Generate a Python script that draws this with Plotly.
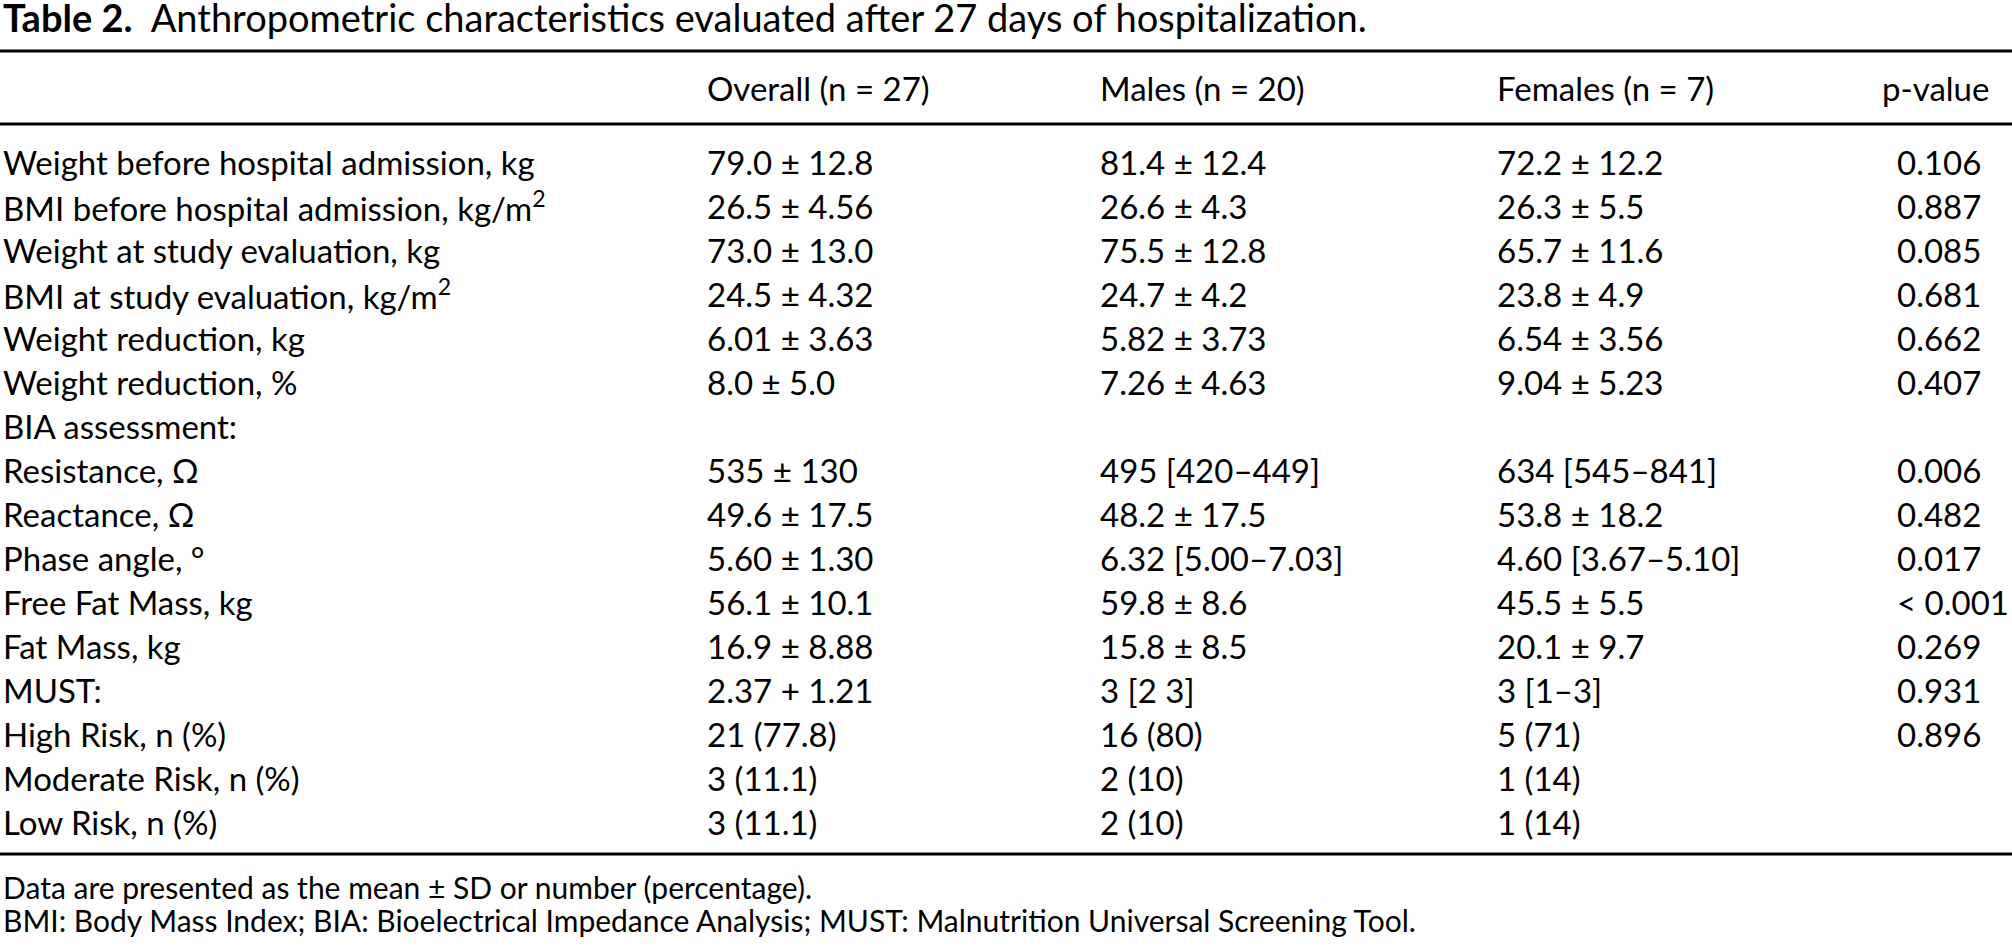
import plotly.graph_objects as go

# table content, as printed
title_bold = "Table 2."
title_text = "Anthropometric characteristics evaluated after 27 days of hospitalization."

columns = ["Overall (n = 27)", "Males (n = 20)", "Females (n = 7)", "p-value"]

row_labels = [
    "Weight before hospital admission, kg",
    "BMI before hospital admission, kg/m<sup>2</sup>",
    "Weight at study evaluation, kg",
    "BMI at study evaluation, kg/m<sup>2</sup>",
    "Weight reduction, kg",
    "Weight reduction, %",
    "BIA assessment:",
    "Resistance, \u03a9",
    "Reactance, \u03a9",
    "Phase angle, \u00b0",
    "Free Fat Mass, kg",
    "Fat Mass, kg",
    "MUST:",
    "High Risk, n (%)",
    "Moderate Risk, n (%)",
    "Low Risk, n (%)",
]

overall = ["79.0 ± 12.8", "26.5 ± 4.56", "73.0 ± 13.0", "24.5 ± 4.32",
           "6.01 ± 3.63", "8.0 ± 5.0", "", "535 ± 130", "49.6 ± 17.5",
           "5.60 ± 1.30", "56.1 ± 10.1", "16.9 ± 8.88", "2.37 + 1.21",
           "21 (77.8)", "3 (11.1)", "3 (11.1)"]
males = ["81.4 ± 12.4", "26.6 ± 4.3", "75.5 ± 12.8", "24.7 ± 4.2",
         "5.82 ± 3.73", "7.26 ± 4.63", "", "495 [420–449]", "48.2 ± 17.5",
         "6.32 [5.00–7.03]", "59.8 ± 8.6", "15.8 ± 8.5", "3 [2 3]",
         "16 (80)", "2 (10)", "2 (10)"]
females = ["72.2 ± 12.2", "26.3 ± 5.5", "65.7 ± 11.6", "23.8 ± 4.9",
           "6.54 ± 3.56", "9.04 ± 5.23", "", "634 [545–841]", "53.8 ± 18.2",
           "4.60 [3.67–5.10]", "45.5 ± 5.5", "20.1 ± 9.7", "3 [1–3]",
           "5 (71)", "1 (14)", "1 (14)"]
p_values = ["0.106", "0.887", "0.085", "0.681", "0.662", "0.407", "",
            "0.006", "0.482", "0.017", "< 0.001", "0.269", "0.931",
            "0.896", "", ""]

footnotes = [
    "Data are presented as the mean ± SD or number (percentage).",
    "BMI: Body Mass Index; BIA: Bioelectrical Impedance Analysis; "
    "MUST: Malnutrition Universal Screening Tool.",
]

W, H = 2012, 948
FONT = "Lato"
FS = 33          # body text
FS_TITLE = 38
FS_FOOT = 30

col_x = [1, 705, 1098, 1495, 1895]
pval_head_x = 1880
header_y = 88
row0_y = 162
row_step = 44
rules_y = [51, 124, 854]
foot_y = [887, 920]

fig = go.Figure()
ann = []

ann.append(dict(x=col_x[0], y=17,
                text=f"<b>{title_bold}</b>  {title_text}",
                font=dict(size=FS_TITLE),
                xanchor="left", yanchor="middle", showarrow=False))

head_x = col_x[1:4] + [pval_head_x]
for j, c in enumerate(columns):
    ann.append(dict(x=head_x[j], y=header_y, text=c,
                    xanchor="left", yanchor="middle", showarrow=False))

for i, lab in enumerate(row_labels):
    y = row0_y + i * row_step
    cells = [lab, overall[i], males[i], females[i], p_values[i]]
    for j, txt in enumerate(cells):
        if not txt:
            continue
        ann.append(dict(x=col_x[j], y=y, text=txt,
                        xanchor="left", yanchor="middle", showarrow=False))

for k, f in enumerate(footnotes):
    ann.append(dict(x=col_x[0], y=foot_y[k], text=f,
                    font=dict(size=FS_FOOT),
                    xanchor="left", yanchor="middle", showarrow=False))

shapes = [dict(type="line", x0=0, x1=W, y0=y, y1=y,
               line=dict(color="black", width=3)) for y in rules_y]

fig.update_layout(
    width=W, height=H,
    margin=dict(l=0, r=0, t=0, b=0),
    paper_bgcolor="white", plot_bgcolor="white",
    font=dict(family=FONT, size=FS, color="black"),
    annotations=ann, shapes=shapes,
    xaxis=dict(range=[0, W], visible=False, fixedrange=True),
    yaxis=dict(range=[H, 0], visible=False, fixedrange=True),
    showlegend=False,
)

fig.write_html("out.html", config={"displayModeBar": False},
               post_script="document.body.style.margin='0';")
